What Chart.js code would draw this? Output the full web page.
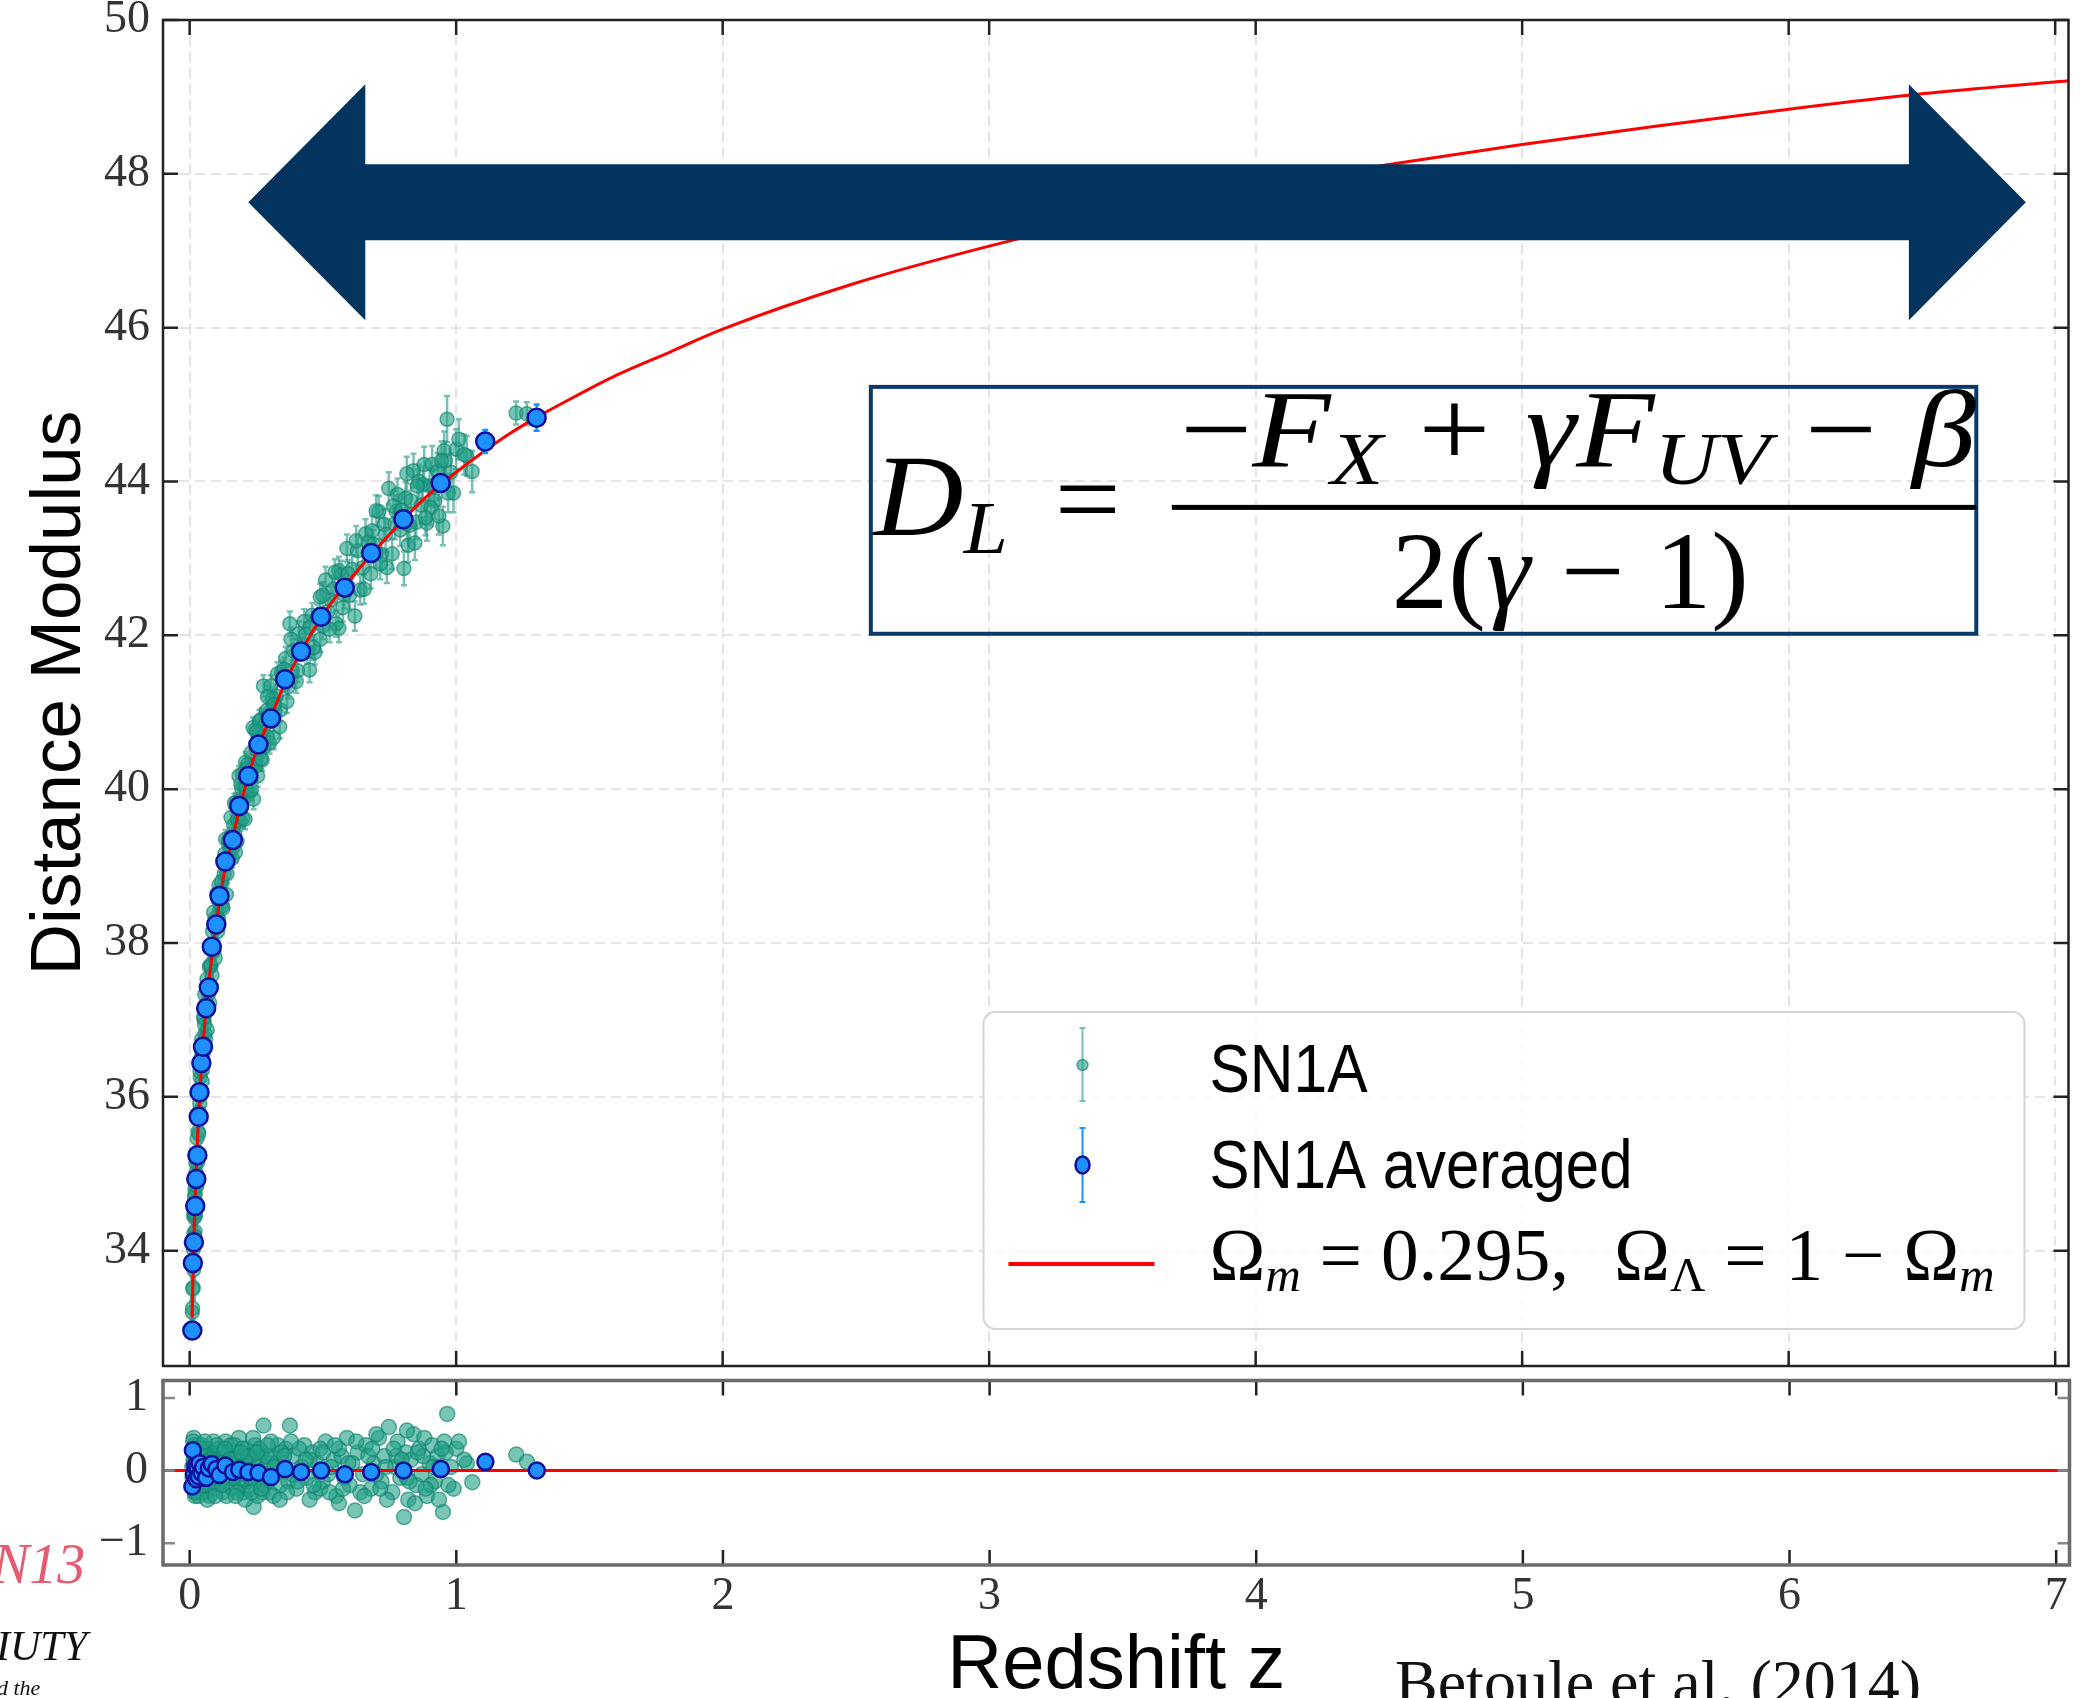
<!DOCTYPE html>
<html>
<head>
<meta charset="utf-8">
<title>Distance modulus vs redshift</title>
<script src="https://cdn.jsdelivr.net/npm/chart.js@4.4.1/dist/chart.umd.min.js"></script>
<style>
  html, body { margin: 0; padding: 0; background: #fff; }
  body { width: 2080px; height: 1698px; overflow: hidden; position: relative; }
  canvas { position: absolute; left: 0; }
  .frag { position: absolute; white-space: nowrap; font-family: "Liberation Serif", "DejaVu Serif", serif; line-height: 1; }
</style>
</head>
<body>
<canvas id="hubble" width="2080" height="1380" style="top:0"></canvas>
<canvas id="resid" width="2080" height="328" style="top:1370px"></canvas>
<div class="frag" style="left:-8px;top:1536px;font-size:56px;font-style:italic;color:#e35d72">N13</div>
<div class="frag" style="left:-4px;top:1625px;font-size:42px;font-style:italic;color:#111">IUTY</div>
<div class="frag" style="left:-3px;top:1677px;font-size:22px;font-style:italic;color:#111">d the</div>
<div class="frag" style="left:1395px;top:1651px;font-size:64px;color:#111">Betoule et al. (2014)</div>
<script>
// ---- values ----
// individual SN1A: redshift, distance modulus, error, residual
const snZ = [0.010, 0.011, 0.012, 0.013, 0.014, 0.015, 0.015, 0.016, 0.017, 0.018, 0.019, 0.020, 0.020, 0.022, 0.024,
  0.026, 0.028, 0.030, 0.032, 0.034, 0.036, 0.038, 0.040, 0.043, 0.045, 0.046, 0.050, 0.054, 0.058, 0.060,
  0.063, 0.068, 0.074, 0.075, 0.080, 0.086, 0.090, 0.092, 0.098, 0.105, 0.110, 0.115, 0.120, 0.125, 0.130,
  0.135, 0.140, 0.145, 0.150, 0.155, 0.160, 0.165, 0.170, 0.175, 0.180, 0.185, 0.190, 0.195, 0.200, 0.205,
  0.210, 0.215, 0.220, 0.225, 0.230, 0.235, 0.240, 0.245, 0.250, 0.255, 0.260, 0.265, 0.270, 0.277, 0.280,
  0.285, 0.290, 0.295, 0.300, 0.310, 0.320, 0.330, 0.340, 0.350, 0.360, 0.370, 0.376, 0.390, 0.400, 0.420,
  0.430, 0.440, 0.460, 0.470, 0.480, 0.500, 0.510, 0.520, 0.540, 0.550, 0.570, 0.580, 0.590, 0.600, 0.620,
  0.630, 0.650, 0.660, 0.680, 0.690, 0.710, 0.720, 0.730, 0.747, 0.760, 0.770, 0.780, 0.790, 0.804, 0.810,
  0.820, 0.830, 0.840, 0.850, 0.860, 0.870, 0.880, 0.890, 0.900, 0.910, 0.920, 0.930, 0.950, 0.955, 0.966,
  0.980, 1.000, 1.010, 1.040, 1.060, 1.225, 1.265,
  0.012, 0.017, 0.021, 0.027, 0.031, 0.035, 0.041, 0.047, 0.052, 0.056, 0.065, 0.071, 0.078, 0.084, 0.095,
  0.102, 0.108, 0.118, 0.128, 0.138, 0.148, 0.158, 0.168, 0.178, 0.188, 0.198, 0.208, 0.218, 0.228, 0.238,
  0.248, 0.262, 0.272, 0.288, 0.305, 0.315, 0.325, 0.345, 0.365, 0.385, 0.410, 0.450, 0.450, 0.490, 0.490,
  0.530, 0.560, 0.560, 0.610, 0.640, 0.670, 0.700, 0.700, 0.740, 0.775, 0.815, 0.815, 0.845, 0.875, 0.905,
  0.935, 0.935, 0.960, 0.990, 1.030,
  0.013, 0.019, 0.023, 0.033, 0.039, 0.048, 0.057, 0.066, 0.082, 0.096, 0.112, 0.122, 0.132, 0.152, 0.172,
  0.192, 0.212, 0.232, 0.252, 0.268, 0.292, 0.318, 0.338, 0.355, 0.380, 0.405, 0.435, 0.465, 0.500, 0.525,
  0.545, 0.575, 0.595, 0.625, 0.655, 0.685, 0.715, 0.735, 0.765, 0.795, 0.825, 0.855, 0.885, 0.915, 0.945,
  0.970];
const snMu = [33.20, 33.25, 33.85, 33.52, 34.02, 33.75, 34.45, 34.22, 34.09, 34.70, 34.43, 34.80, 34.25, 34.46, 35.02,
  34.97, 35.46, 35.15, 35.55, 35.52, 36.02, 35.91, 36.25, 36.03, 36.75, 36.55, 36.55, 37.01, 36.82, 36.75,
  37.21, 37.13, 37.69, 37.22, 37.70, 38.15, 38.40, 37.90, 38.25, 38.15, 38.75, 38.50, 38.80, 38.45, 38.90,
  39.35, 38.90, 39.33, 39.15, 39.63, 39.10, 39.53, 39.40, 39.83, 39.60, 40.17, 39.59, 40.01, 39.62, 40.03,
  40.35, 39.96, 40.27, 39.97, 40.47, 40.27, 39.87, 40.77, 40.52, 40.17, 40.72, 40.52, 40.91, 41.34, 40.55,
  40.84, 40.68, 40.97, 40.60, 41.18, 41.02, 41.50, 41.03, 41.42, 41.70, 41.33, 42.15, 41.80, 41.40, 41.82,
  42.18, 41.79, 42.26, 41.78, 42.24, 42.12, 42.72, 42.31, 42.60, 42.15, 42.79, 42.53, 43.13, 42.52, 42.25,
  43.10, 42.88, 43.32, 42.80, 43.18, 43.61, 43.05, 43.44, 43.91, 43.06, 43.45, 43.83, 43.37, 42.87, 43.78,
  43.17, 43.75, 44.14, 43.47, 44.00, 43.69, 44.22, 43.46, 43.94, 44.22, 43.75, 44.13, 43.42, 44.40, 44.81,
  44.12, 44.42, 44.55, 44.33, 44.13, 44.89, 44.88,
  33.50, 34.49, 34.73, 34.84, 35.78, 35.80, 36.07, 36.20, 37.03, 36.94, 37.53, 37.34, 37.71, 37.58, 38.32,
  38.64, 38.31, 38.65, 39.04, 38.63, 39.26, 39.22, 39.82, 39.32, 39.81, 40.20, 39.61, 40.32, 40.14, 40.80,
  40.30, 40.89, 40.38, 41.02, 41.34, 40.67, 41.21, 41.52, 41.14, 41.53, 42.02, 41.55, 42.10, 42.50, 41.95,
  42.46, 42.84, 42.09, 42.86, 42.59, 43.21, 43.07, 43.62, 42.88, 43.61, 43.45, 44.10, 43.20, 43.96, 43.66,
  44.00, 43.55, 44.27, 43.85, 44.35,
  34.12, 34.18, 35.14, 35.25, 36.33, 36.35, 37.33, 36.87, 37.93, 37.80, 38.60, 38.48, 39.16, 39.37, 39.18,
  40.07, 40.02, 39.99, 40.75, 40.40, 41.20, 41.10, 40.81, 41.56, 41.95, 41.54, 42.01, 41.84, 42.52, 42.08,
  42.82, 42.36, 42.80, 43.23, 42.60, 43.36, 42.93, 43.31, 43.68, 43.63, 43.43, 43.94, 43.53, 43.93, 44.27,
  43.85];
const snErr = [0.15, 0.15, 0.14, 0.14, 0.13, 0.13, 0.14, 0.12, 0.12, 0.12, 0.12, 0.12, 0.13, 0.12, 0.12,
  0.11, 0.11, 0.11, 0.11, 0.11, 0.11, 0.11, 0.11, 0.11, 0.12, 0.11, 0.11, 0.11, 0.11, 0.12,
  0.11, 0.11, 0.11, 0.12, 0.11, 0.11, 0.12, 0.11, 0.11, 0.12, 0.12, 0.12, 0.12, 0.12, 0.12,
  0.12, 0.12, 0.12, 0.12, 0.12, 0.12, 0.12, 0.12, 0.12, 0.12, 0.13, 0.13, 0.13, 0.13, 0.13,
  0.13, 0.13, 0.13, 0.13, 0.13, 0.13, 0.13, 0.13, 0.13, 0.14, 0.14, 0.14, 0.14, 0.14, 0.14,
  0.14, 0.14, 0.14, 0.14, 0.14, 0.15, 0.15, 0.15, 0.15, 0.15, 0.15, 0.16, 0.15, 0.15, 0.15,
  0.16, 0.16, 0.16, 0.16, 0.16, 0.17, 0.17, 0.17, 0.17, 0.17, 0.18, 0.18, 0.18, 0.18, 0.19,
  0.19, 0.19, 0.19, 0.19, 0.19, 0.20, 0.20, 0.20, 0.21, 0.20, 0.20, 0.21, 0.21, 0.22, 0.21,
  0.22, 0.22, 0.22, 0.22, 0.22, 0.23, 0.23, 0.23, 0.23, 0.24, 0.24, 0.24, 0.25, 0.25, 0.30,
  0.25, 0.26, 0.26, 0.26, 0.27, 0.15, 0.15,
  0.14, 0.13, 0.12, 0.12, 0.11, 0.11, 0.11, 0.11, 0.11, 0.11, 0.11, 0.11, 0.11, 0.11, 0.11,
  0.12, 0.12, 0.12, 0.12, 0.12, 0.12, 0.12, 0.12, 0.12, 0.13, 0.13, 0.13, 0.13, 0.13, 0.13,
  0.13, 0.14, 0.14, 0.14, 0.14, 0.15, 0.15, 0.15, 0.15, 0.15, 0.16, 0.16, 0.16, 0.17, 0.17,
  0.17, 0.18, 0.18, 0.18, 0.19, 0.19, 0.19, 0.20, 0.20, 0.21, 0.21, 0.22, 0.22, 0.23, 0.23,
  0.24, 0.24, 0.25, 0.25, 0.26,
  0.14, 0.13, 0.12, 0.11, 0.11, 0.11, 0.11, 0.11, 0.11, 0.11, 0.12, 0.12, 0.12, 0.12, 0.12,
  0.13, 0.13, 0.13, 0.13, 0.14, 0.14, 0.15, 0.15, 0.15, 0.15, 0.15, 0.16, 0.16, 0.17, 0.17,
  0.17, 0.18, 0.18, 0.19, 0.19, 0.19, 0.20, 0.20, 0.20, 0.21, 0.22, 0.22, 0.23, 0.24, 0.25,
  0.25];
const snRes = [0.05, -0.10, 0.30, -0.20, 0.15, -0.25, 0.45, 0.10, -0.15, 0.35, -0.05, 0.20, -0.35, -0.30, 0.10,
  -0.10, 0.25, -0.20, 0.05, -0.15, 0.20, -0.05, 0.15, -0.25, 0.35, 0.10, -0.10, 0.20, -0.15, -0.30,
  0.05, -0.20, 0.15, -0.35, -0.05, 0.25, 0.40, -0.15, 0.05, -0.20, 0.30, -0.05, 0.15, -0.30, 0.05,
  0.40, -0.15, 0.20, -0.05, 0.35, -0.25, 0.10, -0.10, 0.25, -0.05, 0.45, -0.20, 0.15, -0.30, 0.05,
  0.30, -0.15, 0.10, -0.25, 0.20, -0.05, -0.50, 0.35, 0.05, -0.35, 0.15, -0.10, 0.25, 0.62, -0.20,
  0.05, -0.15, 0.10, -0.30, 0.20, -0.05, 0.35, -0.20, 0.10, 0.30, -0.15, 0.62, 0.20, -0.25, 0.05,
  0.35, -0.10, 0.25, -0.30, 0.10, -0.15, 0.40, -0.05, 0.15, -0.35, 0.20, -0.10, 0.45, -0.20, -0.55,
  0.25, -0.05, 0.35, -0.25, 0.10, 0.45, -0.15, 0.20, 0.60, -0.30, 0.05, 0.40, -0.10, -0.64, 0.25,
  -0.40, 0.15, 0.50, -0.20, 0.30, -0.05, 0.45, -0.35, 0.10, 0.35, -0.15, 0.20, -0.57, 0.40, 0.78,
  0.05, 0.30, 0.40, 0.10, -0.16, 0.22, 0.12,
  -0.05, 0.25, 0.05, -0.30, 0.35, 0.05, -0.10, -0.30, 0.30, 0.05, 0.30, -0.10, 0.05, -0.25, 0.20,
  0.35, -0.10, 0.05, 0.25, -0.35, 0.10, -0.10, 0.35, -0.30, 0.05, 0.30, -0.40, 0.20, -0.10, 0.45,
  -0.15, 0.30, -0.30, 0.20, 0.40, -0.35, 0.10, 0.25, -0.30, -0.05, 0.30, -0.40, 0.15, 0.30, -0.25,
  0.05, 0.30, -0.45, 0.10, -0.30, 0.20, -0.05, 0.50, -0.40, 0.20, -0.10, 0.55, -0.45, 0.20, -0.20,
  0.05, -0.40, 0.25, -0.25, 0.15,
  0.40, -0.30, 0.30, -0.35, 0.30, -0.20, 0.40, -0.40, 0.15, -0.35, 0.10, -0.20, 0.30, 0.15, -0.35,
  0.25, -0.05, -0.30, 0.25, -0.25, 0.35, 0.05, -0.40, 0.20, 0.40, -0.15, 0.15, -0.20, 0.25, -0.30,
  0.35, -0.25, 0.10, 0.40, -0.35, 0.30, -0.25, 0.05, 0.30, 0.15, -0.15, 0.25, -0.25, 0.05, 0.30,
  -0.20];

// binned ("averaged") SN1A
const avgZ = [0.010, 0.012, 0.016, 0.021, 0.025, 0.029, 0.034, 0.037, 0.044, 0.050, 0.062, 0.072, 0.083, 0.100, 0.112,
  0.134, 0.162, 0.186, 0.220, 0.258, 0.305, 0.358, 0.418, 0.493, 0.582, 0.681, 0.802, 0.942, 1.109, 1.302];
const avgMu = [32.96, 33.84, 34.11, 34.58, 34.93, 35.24, 35.74, 36.06, 36.44, 36.65, 37.15, 37.42, 37.95, 38.24, 38.61,
  39.06, 39.34, 39.78, 40.17, 40.58, 40.92, 41.43, 41.79, 42.24, 42.62, 43.07, 43.51, 43.98, 44.52, 44.83];
const avgErr = [0.10, 0.10, 0.08, 0.07, 0.07, 0.06, 0.06, 0.06, 0.05, 0.05, 0.05, 0.05, 0.05, 0.05, 0.05,
  0.05, 0.05, 0.05, 0.05, 0.05, 0.05, 0.05, 0.05, 0.05, 0.05, 0.05, 0.06, 0.07, 0.15, 0.17];
const avgRes = [-0.22, 0.28, -0.05, 0.06, -0.12, 0.04, -0.08, 0.10, -0.03, 0.05, -0.10, 0.03, 0.09, 0.02, -0.06,
  0.07, -0.02, 0.01, -0.02, -0.03, -0.09, 0.02, -0.02, 0.00, -0.05, -0.02, 0.00, 0.02, 0.12, 0.00];

// model curve, Omega_m = 0.295
const modelZ = [0.009, 0.015, 0.02, 0.03, 0.04, 0.05, 0.07, 0.1, 0.13, 0.16, 0.2, 0.25, 0.3, 0.36, 0.42, 0.5, 0.6, 0.7,
  0.8, 0.9, 1.0, 1.1, 1.2, 1.3, 1.4, 1.6, 1.8, 2.0, 2.5, 3.0, 3.5, 4.0, 4.5, 5.0, 5.5, 6.0, 6.5, 7.05];
const modelMu = [33.13, 34.05, 34.65, 35.5, 36.15, 36.68, 37.43, 38.25, 38.92, 39.35, 39.92, 40.5, 40.9, 41.4, 41.8, 42.27, 42.72, 43.12,
  43.5, 43.84, 44.12, 44.38, 44.62, 44.83, 45.02, 45.38, 45.68, 45.98, 46.58, 47.06, 47.47, 47.83, 48.12, 48.38, 48.62, 48.84, 49.04, 49.21];
const zeroZ = [-0.1, 7.05];
const zeroRes = [0, 0];

// axis ticks
const zTicks = [0, 1, 2, 3, 4, 5, 6, 7];
const muTicks = [34, 36, 38, 40, 42, 44, 46, 48, 50];
const resTicks = [-1, 0, 1];

const legendLabels = ['SN1A', 'SN1A averaged'];

// annotation anchors (data coordinates)
const arrowZ = [0.22, 6.89];
const arrowMu = 47.63;
const boxZ = [2.556, 6.704];
const boxMu = [45.23, 42.02];

// ---- styling ----
const SERIF = '"Liberation Serif", "DejaVu Serif", serif';
const SANS = '"Liberation Sans", "DejaVu Sans", sans-serif';
const TEAL_FILL = 'rgba(32,160,135,0.6)';
const TEAL_EDGE = 'rgba(20,130,110,0.65)';
const TEAL_BAR = 'rgba(30,150,128,0.6)';
const BLUE_FILL = '#1e90ff';
const BLUE_EDGE = '#10109a';
const NAVY = '#03345f';

const pts = (xs, ys) => xs.map((v, i) => ({x: v, y: ys[i]}));

// error bars drawn under each dataset's markers
const errorBars = {
  id: 'errorBars',
  beforeDatasetDraw(chart, args) {
    const ds = chart.data.datasets[args.index];
    if (!ds.errs) return;
    const {ctx, chartArea: a, scales: {x, y}} = chart;
    ctx.save();
    ctx.beginPath();
    ctx.rect(a.left, a.top, a.width, a.height);
    ctx.clip();
    ctx.strokeStyle = ds.errColor;
    ctx.lineWidth = 2.5;
    ds.data.forEach((p, i) => {
      const px = x.getPixelForValue(p.x);
      const t = y.getPixelForValue(p.y + ds.errs[i]);
      const b = y.getPixelForValue(p.y - ds.errs[i]);
      ctx.beginPath();
      ctx.moveTo(px, t); ctx.lineTo(px, b);
      ctx.moveTo(px - 3, t); ctx.lineTo(px + 3, t);
      ctx.moveTo(px - 3, b); ctx.lineTo(px + 3, b);
      ctx.stroke();
    });
    ctx.restore();
  }
};

// box frame plus inward ticks on all four sides
const frameTicks = {
  id: 'frameTicks',
  afterDraw(chart, args, o) {
    const {ctx, chartArea: a, scales: {x, y}} = chart;
    ctx.save();
    ctx.lineWidth = o.tickWidth;
    ctx.strokeStyle = o.xTickColor;
    x.ticks.forEach(t => {
      const px = x.getPixelForValue(t.value);
      ctx.beginPath();
      ctx.moveTo(px, a.top); ctx.lineTo(px, a.top + o.xLen);
      ctx.moveTo(px, a.bottom); ctx.lineTo(px, a.bottom - o.xLen);
      ctx.stroke();
    });
    ctx.strokeStyle = o.yTickColor;
    y.ticks.forEach(t => {
      const py = y.getPixelForValue(t.value);
      ctx.beginPath();
      ctx.moveTo(a.left, py); ctx.lineTo(a.left + o.yLen, py);
      ctx.moveTo(a.right, py); ctx.lineTo(a.right - o.yLen, py);
      ctx.stroke();
    });
    ctx.strokeStyle = o.frameColor;
    ctx.lineWidth = o.frameWidth;
    ctx.strokeRect(a.left, a.top, a.width, a.height);
    ctx.restore();
  }
};

// text helpers: runs of differently styled pieces, stretched to a target width
function richWidth(ctx, segs) {
  let w = 0;
  segs.forEach(s => {
    if (s.gap) { w += s.gap; return; }
    ctx.font = s.f;
    w += ctx.measureText(s.t).width;
  });
  return w;
}
function drawRich(ctx, segs, x, y, width) {
  const k = width ? width / richWidth(ctx, segs) : 1;
  ctx.save();
  ctx.translate(x, y);
  ctx.scale(k, 1);
  ctx.textAlign = 'left';
  ctx.textBaseline = 'alphabetic';
  let cx = 0;
  segs.forEach(s => {
    if (s.gap) { cx += s.gap; return; }
    ctx.font = s.f;
    ctx.fillText(s.t, cx, s.dy || 0);
    cx += ctx.measureText(s.t).width;
  });
  ctx.restore();
}

const big = `110px ${SERIF}`, bigI = `italic 110px ${SERIF}`, subI = `italic 74px ${SERIF}`;
const dlSegs = [{t: 'D', f: `italic 116px ${SERIF}`}, {t: 'L', f: subI, dy: 18}];
const eqSegs = [{t: '=', f: big}];
const numSegs = [{t: '\u2212', f: big}, {t: 'F', f: bigI}, {t: 'X', f: subI, dy: 18}, {gap: 30}, {t: '+', f: big}, {gap: 30},
  {t: '\u03b3', f: bigI}, {t: 'F', f: bigI}, {t: 'UV', f: subI, dy: 18}, {gap: 30}, {t: '\u2212', f: big}, {gap: 30},
  {t: '\u03b2', f: bigI}];
const denSegs = [{t: '2(', f: big}, {t: '\u03b3', f: bigI}, {gap: 30}, {t: '\u2212', f: big}, {gap: 30}, {t: '1)', f: big}];
const lg = `74px ${SERIF}`, lgSub = `italic 48px ${SERIF}`, lgSubUp = `48px ${SERIF}`;
const omegaSegs = [{t: '\u03a9', f: lg}, {t: 'm', f: lgSub, dy: 11}, {t: ' = 0.295,', f: lg}, {gap: 44},
  {t: '\u03a9', f: lg}, {t: '\u039b', f: lgSubUp, dy: 11}, {t: ' = 1 \u2212 ', f: lg}, {t: '\u03a9', f: lg}, {t: 'm', f: lgSub, dy: 11}];

function drawLegend(ctx, a) {
  const w = 1041, h = 317;
  const lx = a.right - 44 - w, ly = a.bottom - 37 - h;
  ctx.save();
  ctx.beginPath();
  ctx.roundRect(lx, ly, w, h, 12);
  ctx.fillStyle = 'rgba(255,255,255,0.85)';
  ctx.fill();
  ctx.strokeStyle = '#d4d4d4';
  ctx.lineWidth = 2;
  ctx.stroke();

  const mx = lx + 99;
  // SN1A handle
  ctx.strokeStyle = TEAL_BAR;
  ctx.lineWidth = 2;
  ctx.beginPath();
  ctx.moveTo(mx, ly + 16); ctx.lineTo(mx, ly + 89);
  ctx.moveTo(mx - 3, ly + 16); ctx.lineTo(mx + 3, ly + 16);
  ctx.moveTo(mx - 3, ly + 89); ctx.lineTo(mx + 3, ly + 89);
  ctx.stroke();
  ctx.beginPath();
  ctx.arc(mx, ly + 53, 5.5, 0, Math.PI * 2);
  ctx.fillStyle = TEAL_FILL; ctx.fill();
  ctx.strokeStyle = TEAL_EDGE; ctx.lineWidth = 1.5; ctx.stroke();
  // averaged handle
  ctx.strokeStyle = BLUE_FILL;
  ctx.lineWidth = 2;
  ctx.beginPath();
  ctx.moveTo(mx, ly + 116); ctx.lineTo(mx, ly + 190);
  ctx.moveTo(mx - 3, ly + 116); ctx.lineTo(mx + 3, ly + 116);
  ctx.moveTo(mx - 3, ly + 190); ctx.lineTo(mx + 3, ly + 190);
  ctx.stroke();
  ctx.beginPath();
  ctx.ellipse(mx, ly + 153, 7, 8.5, 0, 0, Math.PI * 2);
  ctx.fillStyle = BLUE_FILL; ctx.fill();
  ctx.strokeStyle = BLUE_EDGE; ctx.lineWidth = 2.5; ctx.stroke();
  // model handle
  ctx.strokeStyle = '#ff0000';
  ctx.lineWidth = 4;
  ctx.beginPath();
  ctx.moveTo(lx + 25, ly + 252); ctx.lineTo(lx + 171, ly + 252);
  ctx.stroke();

  ctx.fillStyle = '#000';
  drawRich(ctx, [{t: legendLabels[0], f: `68px ${SANS}`}], lx + 226, ly + 80, 158);
  drawRich(ctx, [{t: legendLabels[1], f: `68px ${SANS}`}], lx + 226, ly + 176, 423);
  drawRich(ctx, omegaSegs, lx + 226, ly + 268, 785);
  ctx.restore();
}

const overlay = {
  id: 'overlay',
  afterDatasetsDraw(chart) {
    const {ctx, chartArea: a, scales: {x, y}} = chart;
    ctx.save();
    // double-headed arrow
    const xl = x.getPixelForValue(arrowZ[0]), xr = x.getPixelForValue(arrowZ[1]);
    const yc = y.getPixelForValue(arrowMu);
    const head = 117, hh = 118, sh = 38;
    ctx.fillStyle = NAVY;
    ctx.beginPath();
    ctx.moveTo(xl, yc);
    ctx.lineTo(xl + head, yc - hh);
    ctx.lineTo(xl + head, yc - sh);
    ctx.lineTo(xr - head, yc - sh);
    ctx.lineTo(xr - head, yc - hh);
    ctx.lineTo(xr, yc);
    ctx.lineTo(xr - head, yc + hh);
    ctx.lineTo(xr - head, yc + sh);
    ctx.lineTo(xl + head, yc + sh);
    ctx.lineTo(xl + head, yc + hh);
    ctx.closePath();
    ctx.fill();

    // formula box
    const bx = x.getPixelForValue(boxZ[0]), by = y.getPixelForValue(boxMu[0]);
    const bw = x.getPixelForValue(boxZ[1]) - bx, bh = y.getPixelForValue(boxMu[1]) - by;
    ctx.strokeStyle = '#0b3a68';
    ctx.lineWidth = 4;
    ctx.strokeRect(bx, by, bw, bh);
    ctx.fillStyle = '#000';
    drawRich(ctx, dlSegs, bx + 3, by + 148, 134);
    drawRich(ctx, eqSegs, bx + 184, by + 149, 66);
    drawRich(ctx, numSegs, bx + 309, by + 79, 796);
    ctx.fillRect(bx + 301, by + 118, bw - 301, 5);
    drawRich(ctx, denSegs, bx + 521, by + 221, 357);

    drawLegend(ctx, a);
    ctx.restore();
  }
};

Chart.defaults.font.family = SERIF;
Chart.defaults.color = '#333';

const setTicks = arr => scale => { scale.ticks = arr.map(v => ({value: v})); };
const fixX = h => s => { s.height = h; s.paddingLeft = 0; s.paddingRight = 0; };
const fixY = s => { s.width = 163; s.paddingTop = 0; s.paddingBottom = 0; };
const gridStyle = {color: '#e4e4e4', lineWidth: 2, drawTicks: false};
const tickFont = {family: SERIF, size: 46};

new Chart(document.getElementById('hubble'), {
  type: 'scatter',
  data: {
    datasets: [
      {
        label: legendLabels[0],
        data: pts(snZ, snMu),
        errs: snErr,
        errColor: TEAL_BAR,
        pointRadius: 7,
        backgroundColor: TEAL_FILL,
        borderColor: TEAL_EDGE,
        borderWidth: 1.5,
        order: 3
      },
      {
        label: 'model',
        data: pts(modelZ, modelMu),
        showLine: true,
        cubicInterpolationMode: 'monotone',
        pointRadius: 0,
        borderColor: '#ff0000',
        borderWidth: 3,
        order: 2
      },
      {
        label: legendLabels[1],
        data: pts(avgZ, avgMu),
        errs: avgErr,
        errColor: BLUE_FILL,
        pointRadius: 9,
        backgroundColor: BLUE_FILL,
        borderColor: BLUE_EDGE,
        borderWidth: 2.5,
        order: 1
      }
    ]
  },
  options: {
    responsive: false,
    animation: false,
    events: [],
    layout: {padding: {left: 0, top: 20, right: 4, bottom: 14}},
    plugins: {
      legend: {display: false},
      tooltip: {enabled: false},
      frameTicks: {frameColor: '#222', frameWidth: 2.5, tickWidth: 2.5, xTickColor: '#222', yTickColor: '#222', xLen: 15, yLen: 15}
    },
    scales: {
      x: {
        type: 'linear', min: -0.1, max: 7.05,
        afterBuildTicks: setTicks(zTicks),
        afterFit: fixX(0),
        ticks: {display: false},
        grid: gridStyle,
        border: {display: false, dash: [10, 6]}
      },
      y: {
        type: 'linear', min: 32.5, max: 50,
        afterBuildTicks: setTicks(muTicks),
        afterFit: fixY,
        ticks: {font: tickFont, padding: 13, color: '#333'},
        grid: gridStyle,
        border: {display: false, dash: [10, 6]},
        title: {display: true, text: 'Distance Modulus', color: '#000',
          font: {family: SANS, size: 71, lineHeight: 1.2}, padding: {top: 18, bottom: 0}}
      }
    }
  },
  plugins: [errorBars, overlay, frameTicks]
});

new Chart(document.getElementById('resid'), {
  type: 'scatter',
  data: {
    datasets: [
      {
        data: pts(snZ, snRes),
        pointRadius: 7.5,
        backgroundColor: TEAL_FILL,
        borderColor: TEAL_EDGE,
        borderWidth: 1.5,
        order: 3
      },
      {
        data: pts(zeroZ, zeroRes),
        showLine: true,
        pointRadius: 0,
        borderColor: '#ff0000',
        borderWidth: 3,
        order: 2
      },
      {
        data: pts(avgZ, avgRes),
        pointRadius: 8,
        backgroundColor: BLUE_FILL,
        borderColor: BLUE_EDGE,
        borderWidth: 2.5,
        order: 1
      }
    ]
  },
  options: {
    responsive: false,
    animation: false,
    events: [],
    layout: {padding: {left: 0, top: 10, right: 4, bottom: 0}},
    plugins: {
      legend: {display: false},
      tooltip: {enabled: false},
      frameTicks: {frameColor: '#6a6a6a', frameWidth: 3.5, tickWidth: 2.5, xTickColor: '#222', yTickColor: '#888', xLen: 15, yLen: 12}
    },
    scales: {
      x: {
        type: 'linear', min: -0.1, max: 7.05,
        afterBuildTicks: setTicks(zTicks),
        afterFit: fixX(133),
        ticks: {font: tickFont, padding: 4, color: '#333', maxRotation: 0},
        grid: {display: false, drawTicks: false},
        border: {display: false},
        title: {display: true, text: 'Redshift z', color: '#000',
          font: {family: SANS, size: 76, lineHeight: 0.8}, padding: {top: 0, bottom: 1}}
      },
      y: {
        type: 'linear', min: -1.3, max: 1.24,
        afterBuildTicks: setTicks(resTicks),
        afterFit: fixY,
        ticks: {font: tickFont, padding: 15, color: '#333',
          callback: v => (v < 0 ? '\u2212' + Math.abs(v) : String(v))},
        grid: {display: false, drawTicks: false},
        border: {display: false}
      }
    }
  },
  plugins: [frameTicks]
});
</script>
</body>
</html>
